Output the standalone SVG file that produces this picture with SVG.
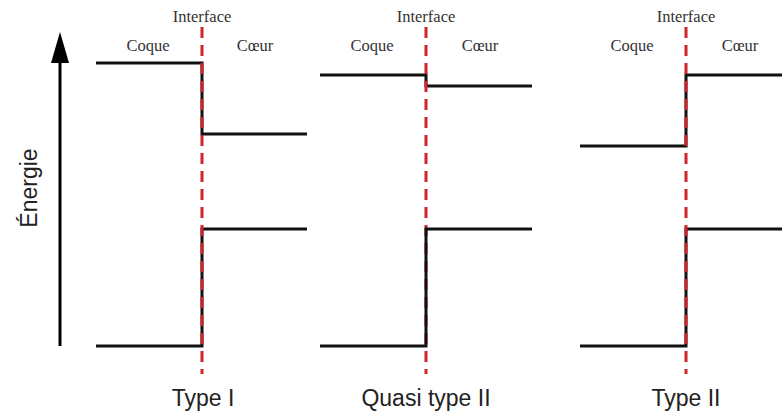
<svg xmlns="http://www.w3.org/2000/svg" width="782" height="412" viewBox="0 0 782 412">
<style>
.lvl{fill:none;stroke:#111;stroke-width:3;stroke-linejoin:miter}
.intf{stroke:#d0232a;stroke-width:3;stroke-dasharray:11 7}
.tl{font-family:"Liberation Serif",serif;font-size:16.5px;fill:#333;text-anchor:middle}
.cap{font-family:"Liberation Sans",sans-serif;font-size:23px;fill:#222;text-anchor:middle}
</style>
<rect width="782" height="412" fill="#fff"/>
<g id="axis">
<line x1="60" y1="346" x2="60" y2="58" stroke="#000" stroke-width="3"/>
<polygon points="60,32 69,63 51,63" fill="#000"/>
<text class="cap" transform="translate(37,188) rotate(-90)" font-size="23">Énergie</text>
</g>
<g id="connectors">
<path class="lvl" d="M96,63 H202 V134 H307"/>
<path class="lvl" d="M96,346 H202 V229 H307"/>
<path class="lvl" d="M320,75 H426 V86 H532"/>
<path class="lvl" d="M580,146 H686 V75 H782"/>
<path class="lvl" d="M580,346 H686 V229 H782"/>
</g>
<g id="interface1">
<line class="intf" x1="202" y1="27" x2="202" y2="374"/>
<text class="tl" x="202" y="22">Interface</text>
<text class="tl" x="148" y="51">Coque</text>
<text class="tl" x="255" y="51">Cœur</text>
<text class="cap" x="203" y="406">Type I</text>
</g>
<g id="interface2">
<line class="intf" x1="426" y1="27" x2="426" y2="374"/>
<text class="tl" x="426" y="22">Interface</text>
<text class="tl" x="372" y="51">Coque</text>
<text class="tl" x="480" y="51">Cœur</text>
<text class="cap" x="426" y="406">Quasi type II</text>
</g>
<path id="qt2-lower" class="lvl" d="M320,346 H426 V229 H532"/>
<g id="interface3">
<line class="intf" x1="686" y1="27" x2="686" y2="374"/>
<text class="tl" x="686" y="22">Interface</text>
<text class="tl" x="632" y="51">Coque</text>
<text class="tl" x="740" y="51">Cœur</text>
<text class="cap" x="686" y="406">Type II</text>
</g>
</svg>
